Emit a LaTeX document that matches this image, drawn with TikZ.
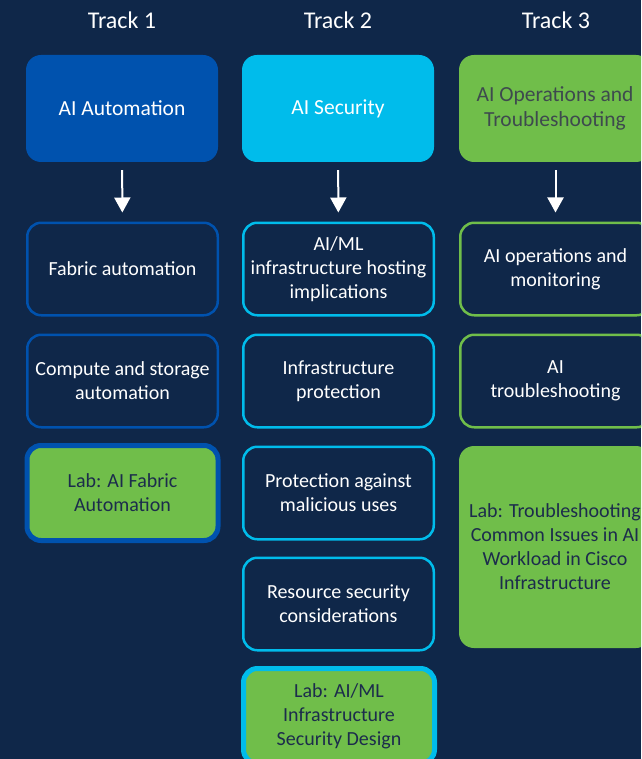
\documentclass[tikz,border=0pt]{standalone}
\usepackage{fontspec}
\setmainfont{Carlito}
\usetikzlibrary{arrows.meta}
\definecolor{bg}{HTML}{0F2749}
\definecolor{cblue}{HTML}{0052AE}
\definecolor{ccyan}{HTML}{00BCEB}
\definecolor{cgreen}{HTML}{70BE4A}
\definecolor{grtext}{HTML}{3E4A4E}
\definecolor{labtext}{HTML}{1C2C4C}
\tikzset{
  tracklabel/.style={text=white, font=\fontsize{24}{28}\selectfont},
  topbox/.style={rounded corners=15pt, minimum width=192pt, minimum height=107pt,
    align=center, inner sep=0pt, font=\fontsize{21.5}{25}\selectfont},
  itembox/.style={draw=#1, line width=2.5pt, fill=bg, rounded corners=14pt,
    minimum width=190.5pt, minimum height=92.5pt, align=center, inner sep=0pt,
    text=white, font=\fontsize{20}{24}\selectfont},
  labbox/.style={draw=#1, line width=5pt, fill=cgreen, rounded corners=14pt,
    minimum width=191pt, minimum height=95pt, align=center, inner sep=0pt,
    text=labtext, font=\fontsize{20}{24}\selectfont},
  arr/.style={draw=white, line width=2pt, -{Triangle[width=16pt,length=15pt]},
    shorten <=8pt, shorten >=9pt},
}
\begin{document}
\begin{tikzpicture}[x=1pt,y=-1pt]
\useasboundingbox (0,0) rectangle (641,759);
\fill[bg] (0,0) rectangle (641,759);
\clip (0,0) rectangle (641,759);

% track labels
\node[tracklabel] (k1) at (122,20.5) {Track 1};
\node[tracklabel] (k2) at (338,20.5) {Track 2};
\node[tracklabel] (k3) at (556,20.5) {Track 3};

% top boxes
\node[topbox, fill=cblue, text=white] (t1) at (122,108.5) {\raisebox{-1.5pt}{AI Automation}};
\node[topbox, fill=ccyan, text=white] (t2) at (338,108.5) {\raisebox{-1.5pt}{AI Security}};
\node[topbox, fill=cgreen, text=grtext] (t3) at (555,108.5) {AI Operations and\\Troubleshooting};

% track 1
\node[itembox=cblue] (a1) at (122.5,269) {Fabric automation};
\node[itembox=cblue] (a2) at (122.5,381) {Compute and storage\\automation};
\node[labbox=cblue] (a3) at (122.5,493) {Lab: AI Fabric\\Automation};

% track 2
\node[itembox=ccyan] (b1) at (338.5,269) {AI/ML\\infrastructure hosting\\implications};
\node[itembox=ccyan] (b2) at (338.5,381) {Infrastructure\\protection};
\node[itembox=ccyan] (b3) at (338.5,493) {Protection against\\malicious uses};
\node[itembox=ccyan] (b4) at (338.5,604) {Resource security\\considerations};
\node[labbox=ccyan] (b5) at (339,716) {Lab: AI/ML\\Infrastructure\\Security Design};

% track 3
\node[itembox=cgreen] (c1) at (555.5,269) {AI operations and\\monitoring};
\node[itembox=cgreen] (c2) at (555.5,381) {AI\\troubleshooting};
\node[topbox, fill=cgreen, text=labtext, minimum height=202pt, font=\fontsize{20}{24}\selectfont] (c3) at (555,547) {Lab: Troubleshooting\\Common Issues in AI\\Workload in Cisco\\Infrastructure};

% arrows
\draw[arr] (t1) -- (a1);
\draw[arr] (t2) -- (b1);
\draw[arr] (t3.south -| c1) -- (c1);
\end{tikzpicture}
\end{document}
